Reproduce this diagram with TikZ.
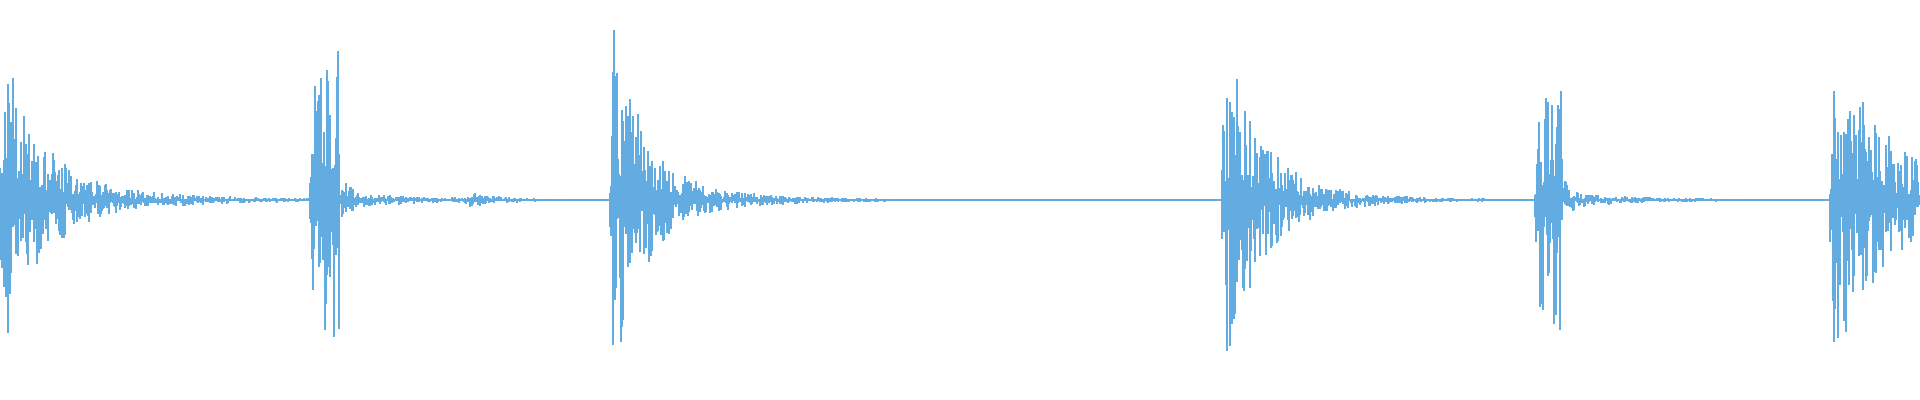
\documentclass[tikz,border=0pt]{standalone}
\definecolor{wavecol}{RGB}{98,172,226}
\tikzset{wave/.style={draw=wavecol,line width=0.3pt},
  axisline/.style={draw=wavecol,line width=0.4pt}}
\begin{document}
\begin{tikzpicture}[x=0.01cm,y=0.01cm,
  declare function={bu(\x,\s,\a,\t,\b,\u,\r)=(\x>=\s)*min(1,0.3+abs(\x-\s)/\r)*(\a*exp(-abs(\x-\s)/\t)+\b*exp(-abs(\x-\s)/\u));
    pl(\x,\s,\a,\c)=(\x>=\s)*(\x<\s+\c)*\a*min(1,0.35+abs(\x-\s)/10);}]
  \useasboundingbox (0,0) rectangle (1920,400);
  % centre line of the track
  \path[axisline] (0,200) -- (1920,200);
  % one stroke per column, envelope from the six hits
  \pgfmathsetseed{11}
  \foreach \x in {0,1,...,1919}{
    \pgfmathsetmacro\env{bu(\x,0,170,35,18,140,4)+pl(\x,310,150,30)+bu(\x,340,25,8,6,110,2)
      +bu(\x,465,6,30,0,1,2)+bu(\x,610,185,30,16,120,6)+bu(\x,1222,175,35,14,120,6)
      +pl(\x,1535,130,28)+bu(\x,1563,20,8,6,110,2)+bu(\x,1830,150,50,25,200,6)}
    \pgfmathsetmacro\up{\env*(0.1+0.9*rnd^1.6)}
    \pgfmathsetmacro\dn{\env*(0.1+0.9*rnd^1.6)}
    \path[wave] (\x,200+\up) -- (\x,200-\dn);
  }
\end{tikzpicture}
\end{document}
